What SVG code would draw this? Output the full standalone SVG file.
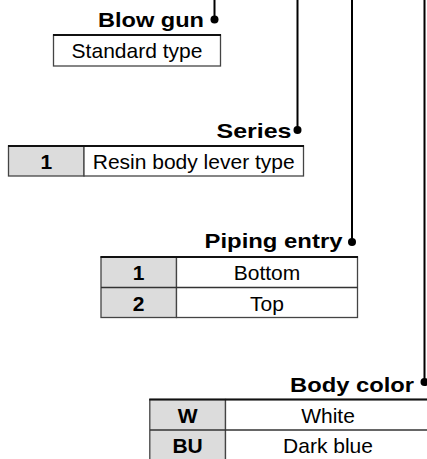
<svg xmlns="http://www.w3.org/2000/svg" width="427" height="459" viewBox="0 0 427 459">
<style>
.lbl{font-family:"Liberation Sans",Arial,Helvetica,sans-serif;font-weight:bold;font-size:21px;fill:#000;text-anchor:end}
.txt{font-family:"Liberation Sans",Arial,Helvetica,sans-serif;font-size:21px;fill:#000;text-anchor:middle}
.code{font-family:"Liberation Sans",Arial,Helvetica,sans-serif;font-weight:bold;font-size:21px;fill:#000;text-anchor:middle}
.box{fill:#fff;stroke:#444;stroke-width:1.3}
.gray{fill:#dcdcdc;stroke:#444;stroke-width:1.3}
.top{stroke:#111;stroke-width:2}
.div{stroke:#333;stroke-width:1.3}
.conn{stroke:#000;stroke-width:2;fill:none}
.dot{fill:#000}
</style>
<g id="connectors">
<line class="conn" x1="214.5" y1="0" x2="214.5" y2="19.5"/>
<circle class="dot" cx="214.5" cy="19.5" r="4"/>
<line class="conn" x1="297.5" y1="0" x2="297.5" y2="130"/>
<circle class="dot" cx="297.5" cy="130" r="4"/>
<line class="conn" x1="352" y1="0" x2="352" y2="242"/>
<circle class="dot" cx="352" cy="242" r="4"/>
<line class="conn" x1="424.5" y1="0" x2="424.5" y2="382"/>
<circle class="dot" cx="424.5" cy="382" r="4"/>
</g>
<g id="blow-gun">
<text class="lbl" x="204" y="27" textLength="106" lengthAdjust="spacingAndGlyphs">Blow gun</text>
<rect class="box" x="53.5" y="35" width="167" height="31"/>
<line class="top" x1="53" y1="35" x2="221" y2="35"/>
<text class="txt" x="137" y="58">Standard type</text>
</g>
<g id="series">
<text class="lbl" x="291.5" y="138.3" textLength="75" lengthAdjust="spacingAndGlyphs">Series</text>
<rect class="gray" x="8.5" y="146" width="75.5" height="30"/>
<rect class="box" x="84" y="146" width="219.5" height="30"/>
<line class="top" x1="8" y1="146" x2="304" y2="146"/>
<text class="code" x="46.3" y="169">1</text>
<text class="txt" x="193.7" y="169">Resin body lever type</text>
</g>
<g id="piping-entry">
<text class="lbl" x="342.5" y="248.3" textLength="138" lengthAdjust="spacingAndGlyphs">Piping entry</text>
<rect class="gray" x="101" y="257" width="75.5" height="60.5"/>
<rect class="box" x="176.5" y="257" width="181" height="60.5"/>
<line class="div" x1="101" y1="287.5" x2="357.5" y2="287.5"/>
<line class="top" x1="100.5" y1="257" x2="358" y2="257"/>
<text class="code" x="138.7" y="280">1</text>
<text class="txt" x="267" y="280">Bottom</text>
<text class="code" x="138.7" y="310.5">2</text>
<text class="txt" x="267" y="310.5">Top</text>
</g>
<g id="body-color">
<text class="lbl" x="414" y="391.7" textLength="124" lengthAdjust="spacingAndGlyphs">Body color</text>
<rect class="gray" x="149.8" y="399.5" width="75.7" height="61"/>
<rect class="box" x="225.5" y="399.5" width="205" height="61"/>
<line class="div" x1="150" y1="430" x2="430" y2="430"/>
<line class="top" x1="149.3" y1="399.5" x2="431" y2="399.5"/>
<text class="code" x="187.6" y="423">W</text>
<text class="txt" x="328" y="423">White</text>
<text class="code" x="187.6" y="452.5">BU</text>
<text class="txt" x="328" y="452.5">Dark blue</text>
</g>
</svg>
